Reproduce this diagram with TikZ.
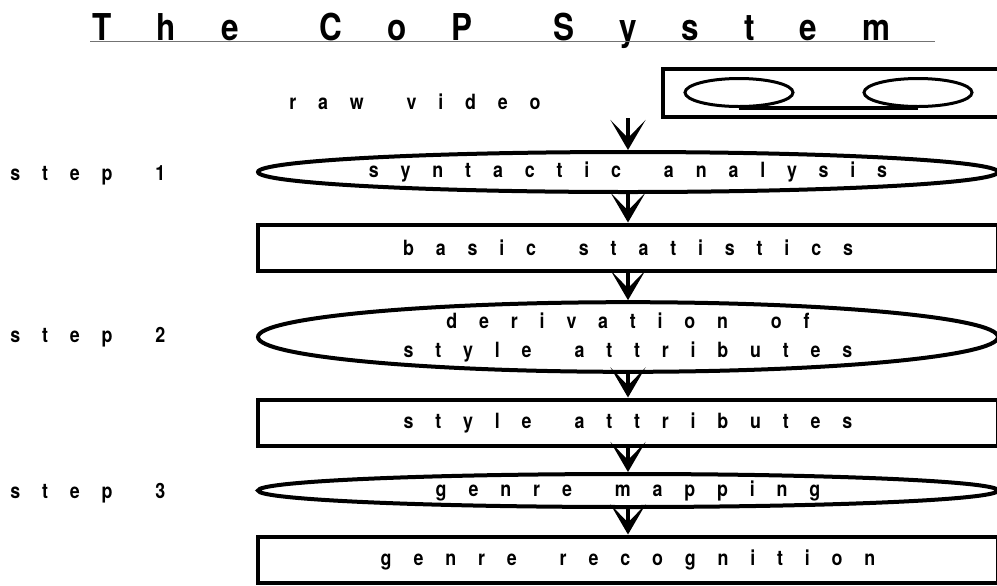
\documentclass[tikz,border=0pt]{standalone}
\usepackage{fontspec}
\usetikzlibrary{arrows.meta,shapes.geometric}
\newfontfamily\bodyfont[FakeStretch=0.85,LetterSpace=104,WordSpace=1.6]{TeX Gyre Heros}
\newfontfamily\titlefont[FakeStretch=0.85,LetterSpace=122,WordSpace=1.5]{TeX Gyre Heros}
\begin{document}
\begin{tikzpicture}[x=0.5pt, y=-0.5pt,
  txt/.style={font={\bodyfont\bfseries\fontsize{10.5pt}{14.5pt}\selectfont}, inner sep=0pt},
  proc/.style={txt, ellipse, draw=black, line width=2pt, fill=white, align=center, minimum width=370pt, minimum height=20pt},
  data/.style={txt, rectangle, draw=black, line width=2pt, fill=white, minimum width=370pt, minimum height=23pt},
  reel/.style={ellipse, draw=black, line width=1.5pt, inner sep=0pt, minimum width=54pt, minimum height=14pt},
  steplbl/.style={txt, anchor=west},
  flow/.style={line width=2pt, -{Stealth[length=15pt, width=17.5pt, inset=9pt]}}]
\clip (0,0) rectangle (997,585);
\node[font={\titlefont\bfseries\fontsize{18.5pt}{22pt}\selectfont}, inner sep=0pt, anchor=base west] (title) at (92,40) {The CoP System};
\draw[black!55, line width=0.75pt] (90,41.5) -- (935,41.5);
% video input, the box runs off the right edge
\node[draw=black, line width=2pt, minimum width=173.5pt, minimum height=24pt, inner sep=0pt] (rawvid) at (836.5,93) {};
\node[reel] (reelA) at (739,92.5) {};
\node[reel] (reelB) at (918,92.5) {};
\draw[line width=2pt] (reelA.south) -- (reelB.south);
\node[txt] (rawlbl) at (415,102) {raw video};
\coordinate (vidout) at (628,118);
% processing chain
\node[proc] (synt) at (628,172) {syntactic analysis};
\node[data] (basic) at (628,247.5) {basic statistics};
\node[proc, minimum height=34.5pt] (deriv) at (628,337) {derivation of\\style attributes};
\node[data] (attr) at (628,422.5) {style attributes};
\node[proc, minimum height=16.5pt] (gmap) at (628,490.5) {genre mapping};
\node[data] (genre) at (628,559.5) {genre recognition};
\node[steplbl] (st1) at (10,175) {step 1};
\node[steplbl] (st2) at (10,337) {step 2};
\node[steplbl] (st3) at (10,493) {step 3};
\draw[flow] (vidout) -- (synt.north);
\draw[flow] (synt.south) -- (basic.north);
\draw[flow] (basic.south) -- (deriv.north);
\draw[flow] (deriv.south) -- (attr.north);
\draw[flow] (attr.south) -- (gmap.north);
\draw[flow] (gmap.south) -- (genre.north);
\end{tikzpicture}
\end{document}
